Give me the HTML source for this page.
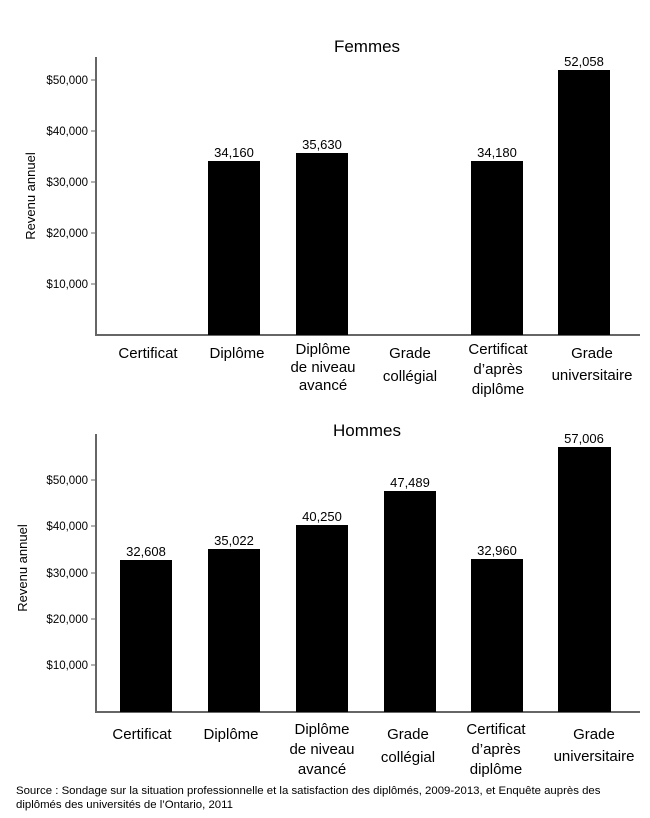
<!DOCTYPE html>
<html><head><meta charset="utf-8"><style>
body{margin:0;background:#fff}
svg text{font-family:"Liberation Sans",sans-serif;fill:#000}
</style></head><body>
<svg width="650" height="813" xmlns="http://www.w3.org/2000/svg">
<text x="367" y="52" font-size="17" text-anchor="middle">Femmes</text>
<line x1="96" y1="57" x2="96" y2="335" stroke="#666" stroke-width="2"/>
<line x1="95" y1="335" x2="640" y2="335" stroke="#666" stroke-width="2"/>
<g font-size="11.5" text-anchor="end">
<line x1="91" y1="80" x2="96" y2="80" stroke="#666"/><text x="88" y="84">$50,000</text>
<line x1="91" y1="131" x2="96" y2="131" stroke="#666"/><text x="88" y="135">$40,000</text>
<line x1="91" y1="182" x2="96" y2="182" stroke="#666"/><text x="88" y="186">$30,000</text>
<line x1="91" y1="233" x2="96" y2="233" stroke="#666"/><text x="88" y="237">$20,000</text>
<line x1="91" y1="284" x2="96" y2="284" stroke="#666"/><text x="88" y="288">$10,000</text>
</g>
<text transform="translate(35,196) rotate(-90)" font-size="13" text-anchor="middle">Revenu annuel</text>
<rect x="208" y="161" width="52" height="174"/>
<rect x="296" y="153" width="52" height="182"/>
<rect x="471" y="161" width="52" height="174"/>
<rect x="558" y="70" width="52" height="265"/>
<g font-size="13" text-anchor="middle">
<text x="234" y="157">34,160</text><text x="322" y="149">35,630</text>
<text x="497" y="157">34,180</text><text x="584" y="66">52,058</text>
</g>
<g font-size="15" text-anchor="middle">
<text x="148" y="358">Certificat</text>
<text x="237" y="358">Diplôme</text>
<text x="323" y="354">Diplôme</text><text x="323" y="372">de niveau</text><text x="323" y="390">avancé</text>
<text x="410" y="358">Grade</text><text x="410" y="381">collégial</text>
<text x="498" y="354">Certificat</text><text x="498" y="374">d’après</text><text x="498" y="394">diplôme</text>
<text x="592" y="358">Grade</text><text x="592" y="380">universitaire</text>
</g>
<text x="367" y="436" font-size="17" text-anchor="middle">Hommes</text>
<line x1="96" y1="434" x2="96" y2="712" stroke="#666" stroke-width="2"/>
<line x1="95" y1="712" x2="640" y2="712" stroke="#666" stroke-width="2"/>
<g font-size="11.5" text-anchor="end">
<line x1="91" y1="480" x2="96" y2="480" stroke="#666"/><text x="88" y="484">$50,000</text>
<line x1="91" y1="526" x2="96" y2="526" stroke="#666"/><text x="88" y="530">$40,000</text>
<line x1="91" y1="573" x2="96" y2="573" stroke="#666"/><text x="88" y="577">$30,000</text>
<line x1="91" y1="619" x2="96" y2="619" stroke="#666"/><text x="88" y="623">$20,000</text>
<line x1="91" y1="665" x2="96" y2="665" stroke="#666"/><text x="88" y="669">$10,000</text>
</g>
<text transform="translate(27,568) rotate(-90)" font-size="13" text-anchor="middle">Revenu annuel</text>
<rect x="120" y="560" width="52" height="152"/>
<rect x="208" y="549" width="52" height="163"/>
<rect x="296" y="525" width="52" height="187"/>
<rect x="384" y="491" width="52" height="221"/>
<rect x="471" y="559" width="52" height="153"/>
<rect x="558" y="447" width="53" height="265"/>
<g font-size="13" text-anchor="middle">
<text x="146" y="556">32,608</text><text x="234" y="545">35,022</text>
<text x="322" y="521">40,250</text><text x="410" y="487">47,489</text>
<text x="497" y="555">32,960</text><text x="584" y="443">57,006</text>
</g>
<g font-size="15" text-anchor="middle">
<text x="142" y="739">Certificat</text>
<text x="231" y="739">Diplôme</text>
<text x="322" y="734">Diplôme</text><text x="322" y="754">de niveau</text><text x="322" y="774">avancé</text>
<text x="408" y="739">Grade</text><text x="408" y="762">collégial</text>
<text x="496" y="734">Certificat</text><text x="496" y="754">d’après</text><text x="496" y="774">diplôme</text>
<text x="594" y="739">Grade</text><text x="594" y="761">universitaire</text>
</g>
<g font-size="11.4">
<text x="16" y="794">Source : Sondage sur la situation professionnelle et la satisfaction des diplômés, 2009-2013, et Enquête auprès des</text>
<text x="16" y="808">diplômés des universités de l’Ontario, 2011</text>
</g>
</svg>
</body></html>
